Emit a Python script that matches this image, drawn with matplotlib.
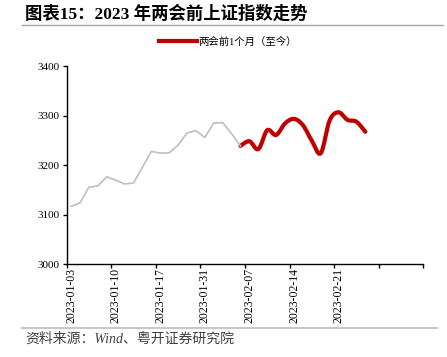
import matplotlib
matplotlib.use('Agg')
import matplotlib.pyplot as plt
from matplotlib.path import Path
from matplotlib.patches import PathPatch
from matplotlib.lines import Line2D
from matplotlib.ticker import FixedLocator

plt.rcParams['font.family'] = ['Liberation Serif', 'Noto Sans CJK SC']

# trading days shown on the category axis
dates = ['2023-01-03', '2023-01-04', '2023-01-05', '2023-01-06', '2023-01-09',
         '2023-01-10', '2023-01-11', '2023-01-12', '2023-01-13', '2023-01-16',
         '2023-01-17', '2023-01-18', '2023-01-19', '2023-01-20', '2023-01-30',
         '2023-01-31', '2023-02-01', '2023-02-02', '2023-02-03', '2023-02-06',
         '2023-02-07', '2023-02-08', '2023-02-09', '2023-02-10', '2023-02-13',
         '2023-02-14', '2023-02-15', '2023-02-16', '2023-02-17', '2023-02-20',
         '2023-02-21', '2023-02-22', '2023-02-23', '2023-02-24']
n_slots = 40

# SSE composite close, before the window (grey)
before = [3116.5, 3123.5, 3155.2, 3157.6, 3176.1, 3169.5, 3161.8, 3163.5,
          3195.3, 3227.6, 3224.2, 3224.4, 3240.3, 3264.8, 3269.3, 3255.7,
          3284.9, 3285.7, 3263.4, 3238.7]
# one month before the two sessions (red), starting 2023-02-06
recent = [3238.7, 3248.1, 3232.1, 3270.4, 3260.7, 3284.2, 3293.3, 3280.5,
          3249.0, 3224.0, 3290.3, 3306.5, 3291.2, 3287.5, 3267.2]
recent_start = 19

legend_label = '两会前1个月（至今）'
title = '图表15：2023 年两会前上证指数走势'
source = '资料来源：Wind、粤开证券研究院'


def smooth_path(xs, ys):
    # Excel-like smoothed line: Catmull-Rom segments as cubic Beziers
    verts = [(xs[0], ys[0])]
    codes = [Path.MOVETO]
    n = len(xs)
    for i in range(n - 1):
        x0, y0 = (xs[i - 1], ys[i - 1]) if i > 0 else (xs[i], ys[i])
        x1, y1 = xs[i], ys[i]
        x2, y2 = xs[i + 1], ys[i + 1]
        x3, y3 = (xs[i + 2], ys[i + 2]) if i + 2 < n else (x2, y2)
        verts += [(x1 + (x2 - x0) / 6, y1 + (y2 - y0) / 6),
                  (x2 - (x3 - x1) / 6, y2 - (y3 - y1) / 6),
                  (x2, y2)]
        codes += [Path.CURVE4] * 3
    return Path(verts, codes)


fig = plt.figure(figsize=(4.47, 3.57), dpi=100)
ax = fig.add_axes([0.149, 0.2605, 0.798, 0.5545])

ax.plot(range(len(before)), before, color='#BFBFBF', lw=1.2)
xr = list(range(recent_start, recent_start + len(recent)))
ax.add_patch(PathPatch(smooth_path(xr, recent), facecolor='none',
                       edgecolor='#C00000', lw=3.0, capstyle='round',
                       joinstyle='round'))
ax.plot([], [], color='#C00000', lw=3.0, label=legend_label)

ax.set_xlim(-0.5, n_slots - 0.5)
ax.set_ylim(3000, 3400)
ax.set_yticks([3000, 3100, 3200, 3300, 3400])

ax.xaxis.set_major_locator(FixedLocator([i - 0.5 for i in range(0, n_slots + 1, 5)]))
ax.xaxis.set_major_formatter(plt.NullFormatter())
ax.xaxis.set_minor_locator(FixedLocator(list(range(0, len(dates), 5))))
ax.set_xticklabels(dates[::5], minor=True, rotation=90, fontsize=8.5)
ax.tick_params(axis='x', which='minor', length=0, pad=3)
ax.tick_params(axis='x', which='major', length=3, width=1, direction='out')
ax.tick_params(axis='y', length=3, width=1, direction='out', labelsize=8, pad=2)

for s in ['top', 'right']:
    ax.spines[s].set_visible(False)
for s in ['left', 'bottom']:
    ax.spines[s].set_linewidth(1)

ax.legend(loc='center', bbox_to_anchor=(228 / 447, 1 - 42 / 357),
          bbox_transform=fig.transFigure, frameon=False, fontsize=7.5,
          handlelength=3.6, handletextpad=0.1)

fig.text(25 / 447, 1 - 14 / 357, title, fontsize=12.5, fontweight='bold',
         va='center', ha='left')
fig.add_artist(Line2D([22 / 447, 443 / 447], [1 - 25 / 357, 1 - 25 / 357],
                      color='#A6A6A6', lw=1))
fig.add_artist(Line2D([22 / 447, 437 / 447], [1 - 328 / 357, 1 - 328 / 357],
                      color='#C8C8C8', lw=1.5))
fig.text(25 / 447, 1 - 339 / 357, source, fontsize=10, style='italic',
         color='#404040', va='center', ha='left')

fig.savefig('out.png', dpi=100)
